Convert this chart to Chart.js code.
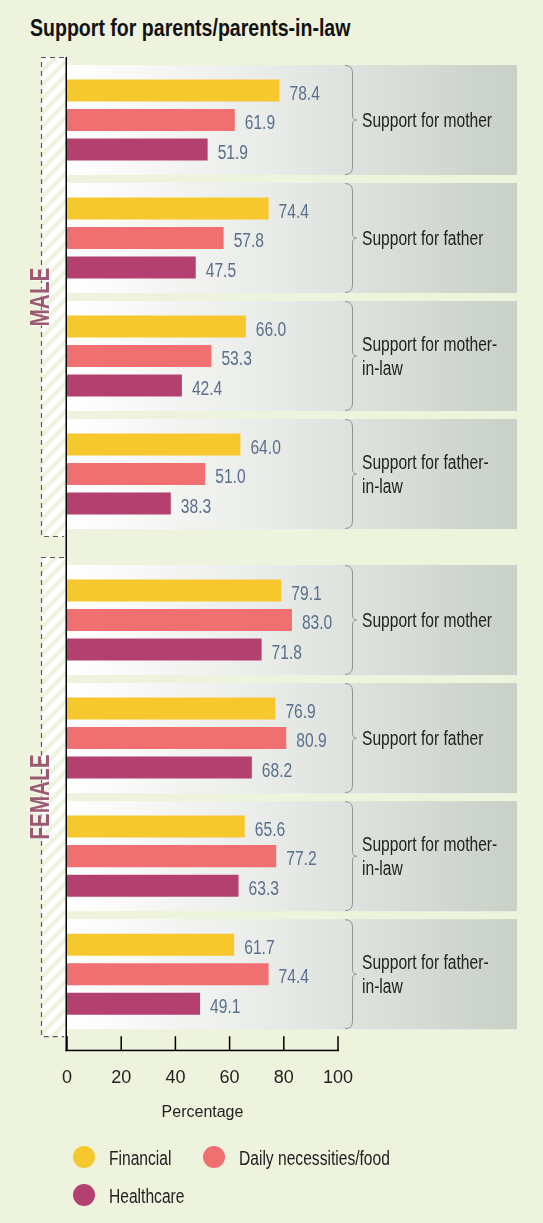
<!DOCTYPE html>
<html><head><meta charset="utf-8">
<script src="https://cdn.jsdelivr.net/npm/chart.js@4.4.1/dist/chart.umd.min.js"></script>
<style>
html,body{margin:0;padding:0;background:#eef3de;}
#wrap{position:relative;width:543px;height:1223px;overflow:hidden;background:#eef3de;}
#title{position:absolute;left:30px;top:15px;font:bold 23px "Liberation Sans",Arial,sans-serif;line-height:27px;color:#111;white-space:nowrap;transform:scaleX(0.85);transform-origin:0 0;}
#cA{position:absolute;left:0;top:0;width:543px;height:545px;}
#cB{position:absolute;left:0;top:545px;width:543px;height:678px;}
</style></head><body>
<div id="wrap">
<div id="title">Support for parents/parents-in-law</div>
<canvas id="cA" width="543" height="545"></canvas>
<canvas id="cB" width="543" height="678"></canvas>
</div>
<script>
// ---- data ----
const categories = ["Support for mother", "Support for father", ["Support for mother-", "in-law"], ["Support for father-", "in-law"]];
const seriesNames = ["Financial", "Daily necessities/food", "Healthcare"];
const seriesColors = ["#f7c72e", "#f06f71", "#b44070"];
const maleFinancial = [78.4, 74.4, 66.0, 64.0];
const maleDaily = [61.9, 57.8, 53.3, 51.0];
const maleHealthcare = [51.9, 47.5, 42.4, 38.3];
const femaleFinancial = [79.1, 76.9, 65.6, 61.7];
const femaleDaily = [83.0, 80.9, 77.2, 74.4];
const femaleHealthcare = [71.8, 68.2, 63.3, 49.1];
const groupLabels = ["MALE", "FEMALE"];
const xTicks = [0, 20, 40, 60, 80, 100];
const axisTitle = "Percentage";

// ---- style ----
const FONT = '"Liberation Sans",Arial,sans-serif';
const NARROW = 0.78;
const PANEL_RIGHT = 517;
const STRIP_LEFT = 41;
const TEXT_COLOR = '#222222';
const VALUE_COLOR = '#5a6f8c';
const GROUP_COLOR = '#9b5a72';

function narrowText(ctx, text, x, y, align, scale) {
  ctx.save();
  ctx.translate(x, y);
  ctx.scale(scale || NARROW, 1);
  ctx.textAlign = align || 'left';
  ctx.fillText(text, 0, 0);
  ctx.restore();
}

function makeDatasets(a, b, c) {
  return [a, b, c].map((d, i) => ({
    label: seriesNames[i],
    data: d,
    backgroundColor: seriesColors[i],
    borderWidth: 0,
    barPercentage: 0.746,
    categoryPercentage: 0.75
  }));
}

function decor(groupName, isBottom) {
  return {
    id: 'decor',
    beforeDatasetsDraw(chart) {
      const {ctx, chartArea: ca, scales: {y}} = chart;
      const n = chart.data.labels.length;
      const slot = y.getPixelForValue(1) - y.getPixelForValue(0);
      ctx.save();
      // hatched strip
      const sx0 = STRIP_LEFT, sx1 = ca.left, sy0 = ca.top - 4, sy1 = ca.bottom + 4;
      ctx.save();
      ctx.beginPath(); ctx.rect(sx0, sy0, sx1 - sx0, sy1 - sy0); ctx.clip();
      ctx.strokeStyle = '#ffffff'; ctx.lineWidth = 5.5;
      const w = sx1 - sx0;
      for (let k = sy0 - 20; k < sy1 + w + 20; k += 14) {
        ctx.beginPath(); ctx.moveTo(sx0 - 4, k + 4); ctx.lineTo(sx1 + 4, k - w - 4); ctx.stroke();
      }
      ctx.restore();
      ctx.setLineDash([5, 4]);
      ctx.strokeStyle = '#5a5a5a'; ctx.lineWidth = 1.2;
      ctx.beginPath();
      ctx.moveTo(sx1 - 3, sy0 + 0.5); ctx.lineTo(sx0 + 0.5, sy0 + 0.5);
      ctx.lineTo(sx0 + 0.5, sy1 - 0.5); ctx.lineTo(sx1 - 3, sy1 - 0.5);
      ctx.stroke();
      ctx.setLineDash([]);
      // group label
      ctx.save();
      ctx.translate(sx0, (sy0 + sy1) / 2);
      ctx.rotate(-Math.PI / 2);
      ctx.font = 'bold 27px ' + FONT;
      ctx.textBaseline = 'middle';
      ctx.strokeStyle = 'rgba(255,255,255,0.6)'; ctx.lineWidth = 2;
      ctx.save(); ctx.scale(0.77, 1); ctx.textAlign = 'center';
      ctx.strokeText(groupName, 0, 1);
      ctx.fillStyle = GROUP_COLOR;
      ctx.fillText(groupName, 0, 1);
      ctx.restore();
      ctx.restore();
      // panels
      const grad = ctx.createLinearGradient(ca.left, 0, PANEL_RIGHT, 0);
      grad.addColorStop(0, '#ffffff');
      grad.addColorStop(0.35, '#eef0ed');
      grad.addColorStop(1, '#c8d0c8');
      for (let i = 0; i < n; i++) {
        const c = y.getPixelForValue(i);
        const top = c - slot / 2 + 4, bot = c + slot / 2 - 4;
        ctx.fillStyle = grad;
        ctx.fillRect(ca.left, top, PANEL_RIGHT - ca.left, bot - top);
        // brace
        const bx0 = 345, bx1 = 352.5, tip = 356.5;
        ctx.strokeStyle = '#939393'; ctx.lineWidth = 1;
        ctx.beginPath();
        ctx.moveTo(bx0, top + 0.5);
        ctx.quadraticCurveTo(bx1, top + 0.5, bx1, top + 8);
        ctx.lineTo(bx1, c - 5);
        ctx.quadraticCurveTo(bx1, c, tip, c);
        ctx.quadraticCurveTo(bx1, c, bx1, c + 5);
        ctx.lineTo(bx1, bot - 8);
        ctx.quadraticCurveTo(bx1, bot - 0.5, bx0, bot - 0.5);
        ctx.stroke();
        // category label
        const lab = chart.data.labels[i];
        const lines = Array.isArray(lab) ? lab : [lab];
        ctx.font = '20px ' + FONT; ctx.fillStyle = TEXT_COLOR;
        ctx.textBaseline = 'middle';
        const lh = 24;
        lines.forEach((t, j) => narrowText(ctx, t, 362, c + 1.5 + (j - (lines.length - 1) / 2) * lh));
      }
      ctx.restore();
    },
    afterDatasetsDraw(chart) {
      const {ctx, chartArea: ca, scales: {x}} = chart;
      ctx.save();
      // value labels
      ctx.font = '20px ' + FONT; ctx.fillStyle = VALUE_COLOR;
      ctx.textBaseline = 'middle';
      chart.data.datasets.forEach((ds, di) => {
        chart.getDatasetMeta(di).data.forEach((bar, i) => {
          narrowText(ctx, ds.data[i].toFixed(1), bar.x + 10, bar.y + 3.5);
        });
      });
      // vertical axis line
      ctx.fillStyle = '#000';
      const lineTop = isBottom ? 0 : ca.top - 4;
      const axisY = ca.bottom + 17;
      const lineBot = isBottom ? axisY + 1 : chart.height;
      ctx.fillRect(ca.left - 1.5, lineTop, 1.5, lineBot - lineTop);
      if (isBottom) {
        const xr = x.getPixelForValue(xTicks[xTicks.length - 1]);
        ctx.fillRect(ca.left - 1.5, axisY - 0.5, xr - ca.left + 2.5, 1.5);
        xTicks.forEach(v => {
          const px = x.getPixelForValue(v);
          ctx.fillRect(px - 0.75, axisY - 14, 1.5, 14);
        });
        // legend
        const pos = [[84, 612], [214, 612], [84, 650]];
        ctx.font = '20px ' + FONT;
        chart.data.datasets.forEach((ds, di) => {
          const [lx, ly] = pos[di];
          ctx.fillStyle = ds.backgroundColor;
          ctx.beginPath(); ctx.arc(lx, ly, 11, 0, Math.PI * 2); ctx.fill();
          ctx.fillStyle = TEXT_COLOR;
          narrowText(ctx, ds.label, lx + 25, ly + 2);
        });
      }
      ctx.restore();
    }
  };
}

function xAxis(show) {
  return {
    type: 'linear', min: 0, max: 100, display: show,
    afterBuildTicks: s => { s.ticks = xTicks.map(v => ({value: v})); },
    grid: {display: false, drawTicks: true, tickLength: 34},
    border: {display: false},
    ticks: {padding: 0, color: TEXT_COLOR, font: {family: FONT, size: 18}},
    title: {display: show, text: axisTitle, color: TEXT_COLOR, font: {family: FONT, size: 16}, padding: {top: 14, bottom: 0}}
  };
}

function makeChart(id, datasets, groupName, isBottom, padding) {
  return new Chart(document.getElementById(id), {
    type: 'bar',
    data: {labels: categories, datasets},
    options: {
      indexAxis: 'y', responsive: false, animation: false, devicePixelRatio: 1,
      layout: {padding},
      plugins: {legend: {display: false}, tooltip: {enabled: false}},
      scales: {
        x: xAxis(isBottom),
        y: {type: 'category', display: false}
      }
    },
    plugins: [decor(groupName, isBottom)]
  });
}

makeChart('cA', makeDatasets(maleFinancial, maleDaily, maleHealthcare), groupLabels[0], false,
  {left: 67, right: 205, top: 61, bottom: 12});
makeChart('cB', makeDatasets(femaleFinancial, femaleDaily, femaleHealthcare), groupLabels[1], true,
  {left: 67, right: 205, top: 16, bottom: 101});
</script>
</body></html>
